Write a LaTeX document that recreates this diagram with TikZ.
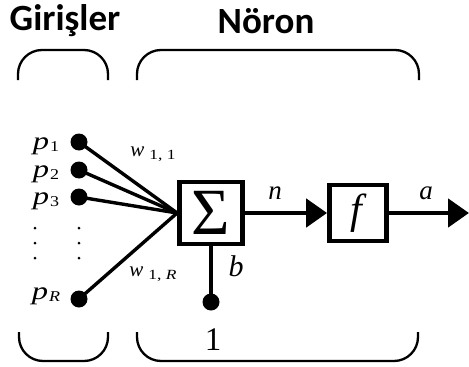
\documentclass[tikz,border=0pt]{standalone}
\usepackage{fontspec}
\usetikzlibrary{arrows.meta}
\newfontfamily\titlefont{Carlito}
\newfontfamily\lblfont{Liberation Serif}
\newcommand\fs[1]{\fontsize{#1}{#1}\selectfont}
\newcommand\pvar[1]{\scalebox{1.3}[1]{\lblfont\fs{25}\itshape p}\kern1pt\raisebox{-0.22em}{\scalebox{1.2}[1]{\lblfont\fs{15}#1}}}
\newcommand\wvar[1]{{\lblfont\fs{21}\itshape w}\kern5pt\raisebox{-0.3em}{\scalebox{1.25}[1]{\lblfont\fs{14}#1}}}
\begin{document}
\begin{tikzpicture}[x=1pt,y=-1pt,
  brk/.style={line width=2.3pt, rounded corners=24pt},
  dotnode/.style={circle, fill=black, inner sep=0pt, minimum size=17pt},
  smalldot/.style={circle, fill=black, inner sep=0pt, minimum size=3pt},
  sumbox/.style={draw, line width=4.8pt, minimum width=63pt, minimum height=62pt, inner sep=0pt},
  fbox/.style={draw, line width=4.8pt, minimum width=57pt, minimum height=56pt, inner sep=0pt},
  wire/.style={line width=3.4pt},
  arr/.style={line width=4.8pt, -{Triangle[length=21pt, width=28pt]}},
  title/.style={font=\titlefont\bfseries\fs{37}},
  lbl/.style={inner sep=0pt}]
\useasboundingbox (0,0) rectangle (469,367);
% titles
\node[title] (tg) at (65,21) {Girişler};
\node[title] (tn) at (266,21) {Nöron};
% brackets
\draw[brk] (18,80) -- (18,50) -- (108,50) -- (108,80);
\draw[brk] (137,80) -- (137,50) -- (419,50) -- (419,80);
\draw[brk] (19,332) -- (19,361) -- (108,361) -- (108,332);
\draw[brk] (137,332) -- (137,361) -- (418,361) -- (418,332);
% boxes
\node[sumbox] (sum) at (211,213) {\lblfont\fs{66}Σ};
\node[fbox] (f) at (358,213) {\lblfont\fs{42}\itshape f\kern3pt};
% input dots
\node[dotnode] (p1) at (79,142) {};
\node[dotnode] (p2) at (79,170) {};
\node[dotnode] (p3) at (79,197) {};
\node[dotnode] (pR) at (79,299) {};
\node[lbl] (lp1) at (46,146) {\pvar{1}};
\node[lbl] (lp2) at (46,174) {\pvar{2}};
\node[lbl] (lp3) at (46,201) {\pvar{3}};
\node[lbl] (lpR) at (46,296) {\pvar{\itshape R}};
% vertical ellipsis
\foreach \yy [count=\i] in {228,243,258}{
  \node[smalldot] (la\i) at (35,\yy) {};
  \node[smalldot] (ra\i) at (79,\yy) {};
}
% input wires
\coordinate (j) at (sum.west);
\foreach \p in {p1,p2,p3,pR}{ \draw[wire] (\p.center) -- (j); }
\node[lbl] (w11) at (153,154) {\wvar{1, 1}};
\node[lbl] (w1R) at (153,274) {\wvar{1, \itshape R}};
% bias
\node[dotnode] (one) at (211,302) {};
\draw[wire] (sum.south) -- (one.center);
\node[lbl] (b) at (236,266) {\lblfont\fs{30}\itshape b};
\node[lbl] (lone) at (213,340) {\lblfont\fs{33}1};
% arrows
\draw[arr] (sum.east) -- (f.west);
\node[lbl] (n) at (275,193) {\lblfont\fs{27}\itshape n};
\coordinate (out) at (469,213);
\draw[arr] (f.east) -- (out);
\node[lbl] (a) at (426,193) {\lblfont\fs{27}\itshape a};
\end{tikzpicture}
\end{document}
